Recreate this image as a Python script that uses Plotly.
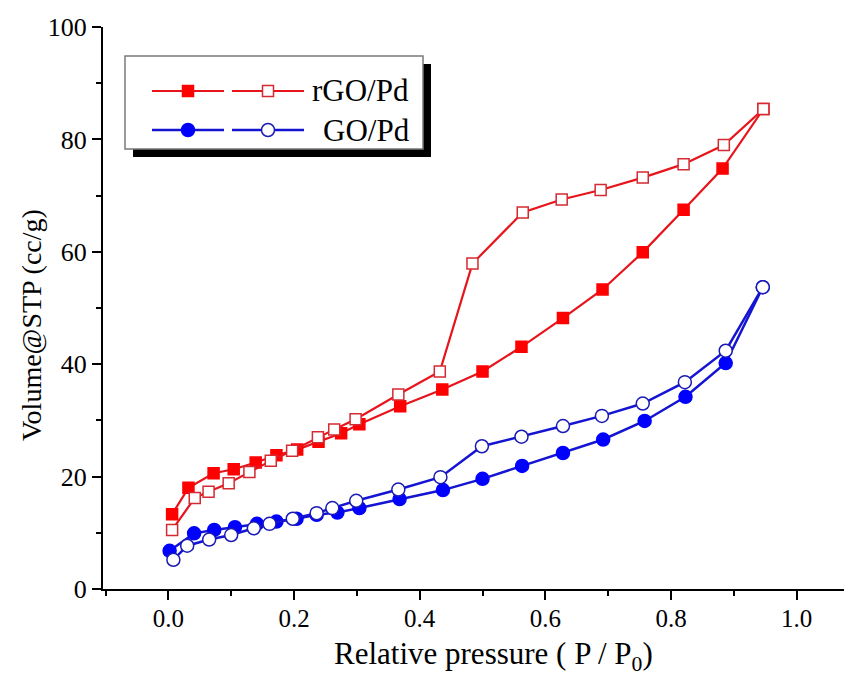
import plotly.graph_objects as go

# ---------------- data ----------------
rgo_ads_x = [0.006, 0.032, 0.072, 0.104, 0.139, 0.172, 0.205, 0.239, 0.275, 0.304,
             0.369, 0.436, 0.500, 0.562, 0.628, 0.691, 0.755, 0.820, 0.882, 0.947]
rgo_ads_y = [13.3, 18.0, 20.6, 21.3, 22.5, 23.8, 24.8, 26.2, 27.7, 29.3,
             32.5, 35.5, 38.7, 43.1, 48.2, 53.3, 59.9, 67.5, 74.8, 85.4]

rgo_des_x = [0.006, 0.042, 0.064, 0.096, 0.129, 0.163, 0.197, 0.238, 0.264, 0.298,
             0.366, 0.432, 0.484, 0.564, 0.626, 0.688, 0.755, 0.820, 0.884, 0.947]
rgo_des_y = [10.5, 16.2, 17.3, 18.8, 20.8, 22.8, 24.6, 27.0, 28.4, 30.2,
             34.6, 38.7, 57.9, 67.0, 69.3, 71.0, 73.2, 75.6, 79.0, 85.4]

go_ads_x = [0.002, 0.041, 0.073, 0.106, 0.141, 0.172, 0.204, 0.236, 0.269, 0.304,
            0.368, 0.437, 0.500, 0.563, 0.628, 0.692, 0.758, 0.823, 0.887, 0.946]
go_ads_y = [6.8, 9.9, 10.5, 11.0, 11.6, 12.0, 12.5, 13.2, 13.6, 14.4,
            16.0, 17.6, 19.6, 21.9, 24.2, 26.6, 29.9, 34.2, 40.2, 53.7]

go_des_x = [0.008, 0.030, 0.065, 0.100, 0.136, 0.161, 0.198, 0.236, 0.261, 0.299,
            0.366, 0.433, 0.499, 0.562, 0.628, 0.690, 0.755, 0.822, 0.887, 0.946]
go_des_y = [5.2, 7.7, 8.8, 9.6, 10.8, 11.6, 12.5, 13.5, 14.4, 15.7,
            17.7, 19.9, 25.4, 27.1, 29.0, 30.8, 33.0, 36.8, 42.4, 53.7]

series_names = ["rGO/Pd", "GO/Pd"]
x_ticks = [0.0, 0.2, 0.4, 0.6, 0.8, 1.0]
y_ticks = [0, 20, 40, 60, 80, 100]
x_title = "Relative pressure ( P / P<sub>0</sub>)"
y_title = "Volume@STP (cc/g)"

# ---------------- styling ----------------
FONT = "Liberation Serif, Times New Roman, serif"
RED_LINE = "#e8141c"
RED = "#ff0000"
BLUE_LINE = "#1414d2"
BLUE = "#0000ff"

# the page body adds an 8px margin, so the figure is made 8px smaller
OFF = 8
W, H = 852 - OFF, 675 - OFF
# plot area in window pixels: x 103..852, y 27..589
ML, MR, MT, MB = 103 - OFF, 0, 27 - OFF, (675 - OFF) - (589 - OFF)

fig = go.Figure()

def add(x, y, line_color, symbol, fill, border, size, lw):
    fig.add_trace(go.Scatter(
        x=x, y=y, mode="lines+markers", showlegend=False,
        line=dict(color=line_color, width=lw),
        marker=dict(symbol=symbol, size=size, color=fill,
                    line=dict(color=border, width=1.5)),
    ))

add(rgo_ads_x, rgo_ads_y, RED_LINE, "square", RED, RED, 11, 2.2)
add(rgo_des_x, rgo_des_y, RED_LINE, "square", "white", "#d42a32", 11, 2.2)
add(go_ads_x, go_ads_y, BLUE_LINE, "circle", BLUE, BLUE, 13, 2.5)
add(go_des_x, go_des_y, BLUE_LINE, "circle", "white", "#1a1ab4", 13, 2.5)

# ---------------- hand-drawn legend (shadowed box) ----------------
pw = W - ML - MR
ph = H - MT - MB

def px(sx):  # window pixel x -> paper
    return (sx - OFF - ML) / pw

def py(sy):  # window pixel y -> paper
    return (H - MB - (sy - OFF)) / ph

shapes = []
shapes.append(dict(type="rect", xref="paper", yref="paper", layer="above",
                   x0=px(133), x1=px(431), y0=py(157), y1=py(64),
                   fillcolor="black", line=dict(width=0)))
shapes.append(dict(type="rect", xref="paper", yref="paper", layer="above",
                   x0=px(125), x1=px(423), y0=py(149), y1=py(56),
                   fillcolor="white", line=dict(color="#7a7a7a", width=1.5)))

rows = [
    (91, RED_LINE, RED, "rect", "#d42a32", 5.5, 2.2),
    (130, BLUE_LINE, BLUE, "circle", "#1a1ab4", 6.5, 2.5),
]
for yy, lc, fc, kind, ob, r, lw in rows:
    for (xa, xb, xm, filled) in [(152, 224, 188, True), (232, 304, 268, False)]:
        shapes.append(dict(type="line", xref="paper", yref="paper", layer="above",
                           x0=px(xa), x1=px(xb), y0=py(yy), y1=py(yy),
                           line=dict(color=lc, width=lw)))
        shapes.append(dict(type=kind, xref="paper", yref="paper", layer="above",
                           xsizemode="pixel", ysizemode="pixel",
                           xanchor=px(xm), yanchor=py(yy),
                           x0=-r, x1=r, y0=-r, y1=r,
                           fillcolor=fc if filled else "white",
                           line=dict(color=fc if filled else ob, width=1.5)))

annotations = [
    dict(text=series_names[0], xref="paper", yref="paper", x=px(310), y=py(91),
         xanchor="left", yanchor="middle", showarrow=False,
         font=dict(family=FONT, size=31, color="black")),
    dict(text=series_names[1], xref="paper", yref="paper", x=px(321), y=py(130),
         xanchor="left", yanchor="middle", showarrow=False,
         font=dict(family=FONT, size=31, color="black")),
    # axis titles
    dict(text=x_title, xref="paper", yref="paper", x=px(493), y=py(656),
         xanchor="center", yanchor="middle", showarrow=False,
         font=dict(family=FONT, size=31, color="black")),
    dict(text=y_title, xref="paper", yref="paper", x=px(31), y=py(325),
         xanchor="center", yanchor="middle", showarrow=False, textangle=-90,
         font=dict(family=FONT, size=28, color="black")),
]

fig.update_layout(
    width=W, height=H,
    margin=dict(l=ML, r=MR, t=MT, b=MB, pad=0),
    paper_bgcolor="white", plot_bgcolor="white",
    font=dict(family=FONT, color="black"),
    shapes=shapes, annotations=annotations,
    xaxis=dict(
        range=[-0.104, 1.088], tickvals=x_ticks, tickformat=".1f",
        automargin=False, ticklabelstandoff=-3,
        showline=True, linecolor="black", linewidth=2, mirror=False,
        ticks="outside", ticklen=9, tickwidth=2, tickcolor="black",
        minor=dict(dtick=0.1, tick0=0, ticks="outside", ticklen=5, tickwidth=2, tickcolor="black"),
        showgrid=False, zeroline=False,
        tickfont=dict(family=FONT, size=25, color="black"),
    ),
    yaxis=dict(
        range=[0, 100], tickvals=y_ticks,
        automargin=False,
        showline=True, linecolor="black", linewidth=2, mirror=False,
        ticks="outside", ticklen=9, tickwidth=2, tickcolor="black",
        minor=dict(dtick=10, tick0=0, ticks="outside", ticklen=5, tickwidth=2, tickcolor="black"),
        showgrid=False, zeroline=False,
        tickfont=dict(family=FONT, size=26, color="black"),
    ),
)

fig.write_html("out.html")
